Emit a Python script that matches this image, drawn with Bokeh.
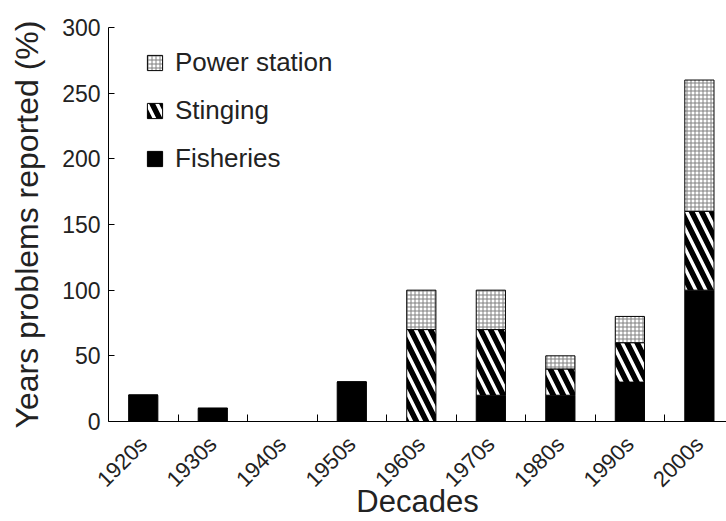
import math
from bokeh.plotting import figure
from bokeh.models import Range1d, FixedTicker, Legend, LegendItem, ColumnDataSource
from bokeh.transform import stack
from bokeh.embed import file_html
from bokeh.resources import INLINE

decades = ["1920s", "1930s", "1940s", "1950s", "1960s", "1970s", "1980s", "1990s", "2000s"]
fisheries = [20, 10, 0, 30, 0, 20, 20, 30, 100]
stinging = [0, 0, 0, 0, 70, 50, 20, 30, 60]
power_station = [0, 0, 0, 0, 30, 30, 10, 20, 100]
y_ticks = [0, 50, 100, 150, 200, 250, 300]

xs = list(range(len(decades)))
src = ColumnDataSource(dict(x=xs, fisheries=fisheries, stinging=stinging, power=power_station))

FONT = "Liberation Sans"

p = figure(width=726, height=521, x_range=Range1d(-0.5, 8.39), y_range=Range1d(0, 300),
           output_backend="svg", toolbar_location=None,
           min_border_left=108, min_border_right=0, min_border_top=27, min_border_bottom=100)

W = 0.42
r_f = p.vbar(x="x", width=W, bottom=0, top=stack("fisheries"), source=src,
             fill_color="black", line_color="black", line_width=1)
r_s = p.vbar(x="x", width=W, bottom=stack("fisheries"), top=stack("fisheries", "stinging"), source=src,
             fill_color="white", line_color="black", line_width=1,
             hatch_pattern="left_diagonal_line", hatch_color="black", hatch_scale=20, hatch_weight=5.5)
r_p = p.vbar(x="x", width=W, bottom=stack("fisheries", "stinging"),
             top=stack("fisheries", "stinging", "power"), source=src,
             fill_color="white", line_color="black", line_width=1,
             hatch_pattern="cross", hatch_color="#808080", hatch_scale=4, hatch_weight=1)

legend = Legend(items=[LegendItem(label="Power station", renderers=[r_p]),
                       LegendItem(label="Stinging", renderers=[r_s]),
                       LegendItem(label="Fisheries", renderers=[r_f])],
                location=(37, 247), margin=0, padding=0, spacing=17,
                glyph_width=19, glyph_height=19, label_height=20, label_standoff=11,
                label_text_font=FONT, label_text_font_size="26px", label_text_color="#222222",
                background_fill_alpha=0, border_line_color=None)
p.add_layout(legend)

p.xgrid.visible = False
p.ygrid.visible = False
p.outline_line_color = None

xa = p.xaxis[0]
xa.ticker = FixedTicker(ticks=xs, minor_ticks=[i + 0.5 for i in xs[:-1]])
xa.major_label_overrides = {i: d for i, d in enumerate(decades)}
xa.major_tick_in = 0
xa.major_tick_out = 0
xa.minor_tick_in = 7
xa.minor_tick_out = 0
xa.minor_tick_line_color = "black"
xa.major_label_orientation = math.pi / 4
xa.major_label_standoff = 19
xa.major_label_text_font = FONT
xa.major_label_text_font_size = "22px"
xa.major_label_text_color = "#222222"
xa.axis_label = "Decades"
xa.axis_label_standoff = -20
xa.axis_label_text_font = FONT
xa.axis_label_text_font_size = "31px"
xa.axis_label_text_font_style = "normal"
xa.axis_label_text_color = "#222222"
xa.axis_line_color = "black"

ya = p.yaxis[0]
ya.ticker = FixedTicker(ticks=y_ticks, minor_ticks=[])
ya.major_tick_in = 6
ya.major_tick_out = 0
ya.major_tick_line_color = "black"
ya.major_label_standoff = 8
ya.major_label_text_font = FONT
ya.major_label_text_font_size = "23px"
ya.major_label_text_color = "#222222"
ya.axis_label = "Years problems reported (%)"
ya.axis_label_standoff = 14
ya.axis_label_text_font = FONT
ya.axis_label_text_font_size = "32px"
ya.axis_label_text_font_style = "normal"
ya.axis_label_text_color = "#222222"
ya.axis_line_color = "black"

open("out.html", "w").write(file_html(p, INLINE))
